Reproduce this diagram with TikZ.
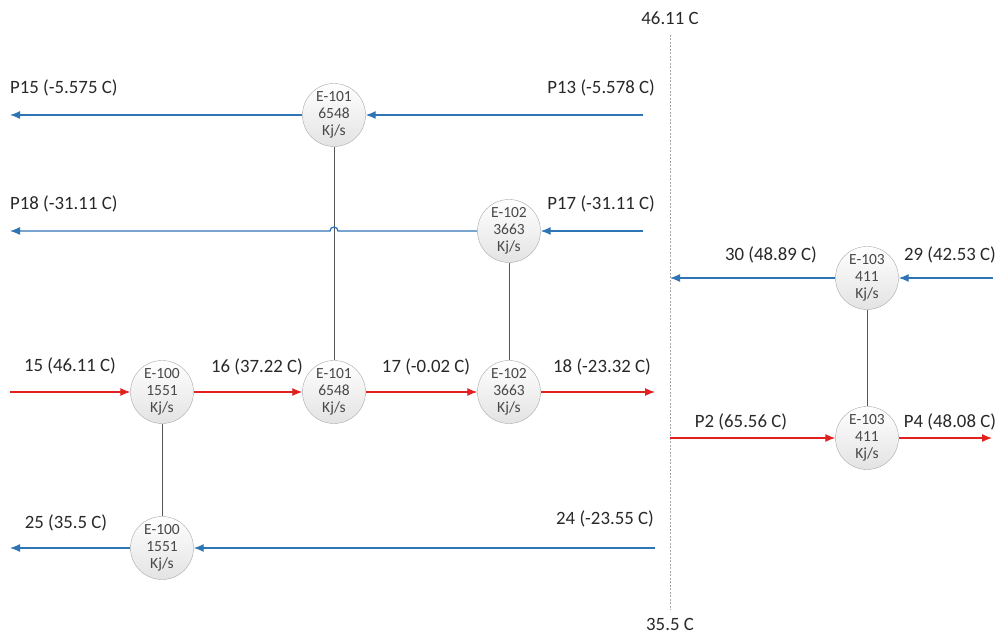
\documentclass[tikz,border=0pt]{standalone}
\usepackage{fontspec}
\setmainfont{Carlito}
\usetikzlibrary{positioning}
\usetikzlibrary{arrows.meta, shapes, backgrounds, calc}

\definecolor{hotred}{RGB}{226,32,32}
\definecolor{coldblue}{RGB}{46,117,182}
\definecolor{linkgray}{RGB}{85,85,85}
\definecolor{rimgray}{RGB}{170,170,170}
\definecolor{txtgray}{RGB}{40,40,40}

\begin{document}
\begin{tikzpicture}[x=1pt, y=1pt, >={Latex[length=10pt,width=8pt]}, text=txtgray]%

            \tikzstyle{hx} = [ circle, draw = rimgray, top color = white, bottom color = gray!22, minimum size = 63pt, inner sep = 0pt, align = center, font = \fontsize{15.5}{17}\selectfont, text = txtgray!85]
            \tikzstyle{hot} = [ ->, hotred, line width = 1.3pt]
            \tikzstyle{cold} = [ ->, coldblue, line width = 1.3pt]
            \tikzstyle{link} = [ linkgray, line width = 0.9pt]
            \tikzstyle{lbl} = [ font = \fontsize{18.8}{22}\selectfont, inner sep = 0pt]
            \tikzstyle{pinch} = [ gray!70, line width = 0.8pt, dash pattern = on 2pt off 1.5pt]

            \useasboundingbox (0,0) rectangle (998,635);

            %% Exchangers
            \node [hx] (e101t) at (334,520) {E-101\\6548\\Kj/s};
            \node [hx] (e102t) at (509,404) {E-102\\3663\\Kj/s};
            \node [hx] (e103t) at (867,357) {E-103\\411\\Kj/s};
            \node [hx] (e100a) at (162,243) {E-100\\1551\\Kj/s};
            \node [hx] (e101b) at (334,243) {E-101\\6548\\Kj/s};
            \node [hx] (e102b) at (509,243) {E-102\\3663\\Kj/s};
            \node [hx] (e103b) at (867,197) {E-103\\411\\Kj/s};
            \node [hx] (e100b) at (162,87)  {E-100\\1551\\Kj/s};

            %% Stream ends
            \coordinate (p13in)  at (643,520);
            \coordinate (p15out) at (10,520);
            \coordinate (p17in)  at (643,404);
            \coordinate (p18out) at (10,404);
            \coordinate (hopR)   at (338,404);
            \coordinate (s29in)  at (993,357);
            \coordinate (s30out) at (670,357);
            \coordinate (s15in)  at (10,243);
            \coordinate (s18out) at (655,243);
            \coordinate (p2in)   at (670,197);
            \coordinate (p4out)  at (992,197);
            \coordinate (s24in)  at (655,87);
            \coordinate (s25out) at (10,87);
            \coordinate (pinchT) at (670,600);
            \coordinate (pinchB) at (670,25);

            %% Matches
            \draw [link] (e101t) -- (e101b);
            \draw [link] (e102t) -- (e102b);
            \draw [link] (e100a) -- (e100b);
            \draw [link] (e103t) -- (e103b);

            %% Pinch
            \draw [pinch] (pinchT) -- (pinchB);
            \node [lbl] (pinchhot)  at (670,617) {46.11 C};
            \node [lbl] (pinchcold) at (670,11)  {35.5 C};

            %% Cold streams
            \draw [cold] (p13in) -- (e101t);
            \draw [cold] (e101t) -- (p15out);
            \draw [cold] (p17in) -- (e102t);
            \draw [cold] (e102t.west) -- (hopR) arc [start angle = 0, end angle = 180, radius = 4] -- (p18out);
            \draw [cold] (s29in) -- (e103t);
            \draw [cold] (e103t) -- (s30out);
            \draw [cold] (s24in) -- (e100b);
            \draw [cold] (e100b) -- (s25out);

            %% Hot streams
            \draw [hot] (s15in) -- (e100a);
            \draw [hot] (e100a) -- (e101b);
            \draw [hot] (e101b) -- (e102b);
            \draw [hot] (e102b) -- (s18out);
            \draw [hot] (p2in) -- (e103b);
            \draw [hot] (e103b) -- (p4out);

            %% Stream labels
            \node [lbl, anchor = west] (lp15) at (10,547)  {P15 (-5.575 C)};
            \node [lbl, anchor = east] (lp13) at (655,547) {P13 (-5.578 C)};
            \node [lbl, anchor = west] (lp18) at (10,431)  {P18 (-31.11 C)};
            \node [lbl, anchor = east] (lp17) at (655,431) {P17 (-31.11 C)};
            \node [lbl] (l30) at (771,380) {30 (48.89 C)};
            \node [lbl] (l29) at (950,380) {29 (42.53 C)};
            \node [lbl] (l15) at (70,269)  {15 (46.11 C)};
            \node [lbl] (l16) at (257,268) {16 (37.22 C)};
            \node [lbl] (l17) at (426,268) {17 (-0.02 C)};
            \node [lbl] (l18) at (602,268) {18 (-23.32 C)};
            \node [lbl] (lp2) at (741,213) {P2 (65.56 C)};
            \node [lbl] (lp4) at (950,213) {P4 (48.08 C)};
            \node [lbl] (l25) at (66,112)  {25 (35.5 C)};
            \node [lbl] (l24) at (605,116) {24 (-23.55 C)};

        \end{tikzpicture}
\end{document}
